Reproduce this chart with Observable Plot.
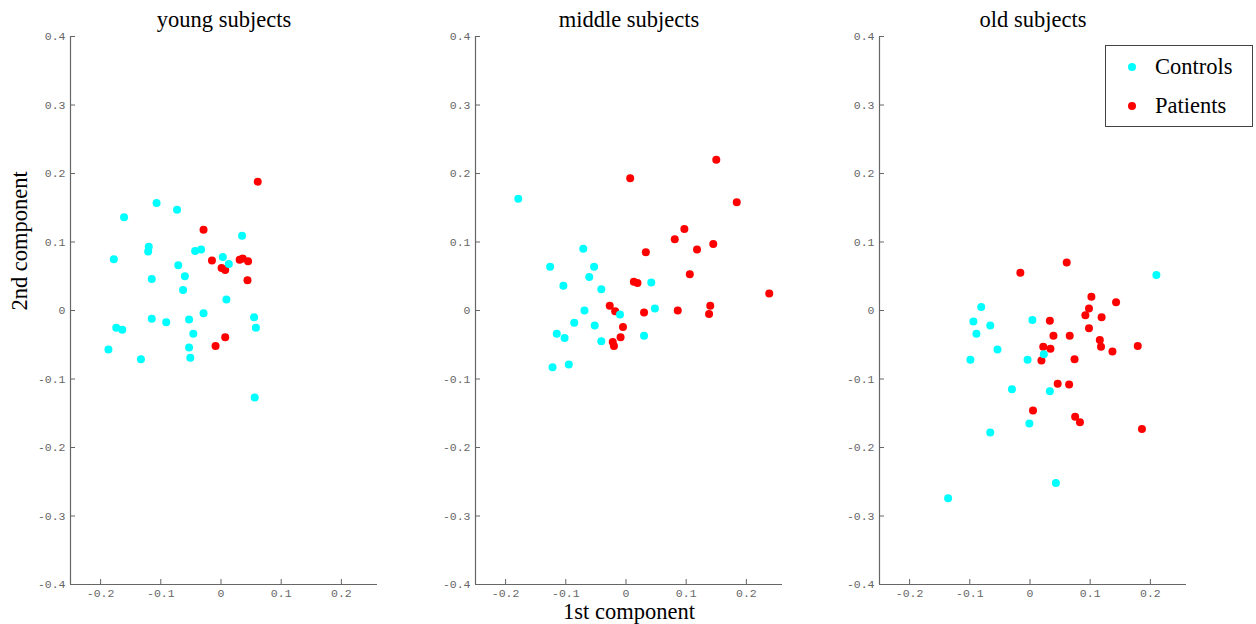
<!DOCTYPE html>
<html><head><meta charset="utf-8">
<script src="https://cdn.jsdelivr.net/npm/d3@7"></script>
<script src="https://cdn.jsdelivr.net/npm/@observablehq/plot@0.6"></script>
<style>
body{margin:0;background:#fff;}
#chart{position:relative;width:1256px;height:624px;overflow:hidden;background:#fff;}
#chart svg{position:absolute;top:0;}
.legend{position:absolute;left:1105px;top:45px;width:146px;height:80px;border:1px solid #444;background:#fff;font-family:"Liberation Serif","Times New Roman",serif;font-size:22.5px;color:#000;}
.legend .dot{position:absolute;width:8px;height:8px;border-radius:50%;}
.legend .lab{position:absolute;line-height:24px;}
</style></head><body><div id="chart"></div><script>
const panelTitles = ["young subjects", "middle subjects", "old subjects"];
const groups = ["Controls", "Patients"];
const groupColors = ["#00ffff", "#ff0000"];
const xTicks = [-0.2, -0.1, 0, 0.1, 0.2];
const yTicks = [-0.4, -0.3, -0.2, -0.1, 0, 0.1, 0.2, 0.3, 0.4];
const xDomain = [-0.25, 0.26];
const yDomain = [-0.4, 0.4];
const xLabel = "1st component";
const yLabel = "2nd component";

const youngControlsX = [-0.107, -0.073, -0.161, -0.120, -0.121, -0.178, -0.043, -0.033, 0.035, 0.003, 0.013, -0.071, -0.060, -0.115, -0.063, 0.009, -0.115, -0.091, -0.053, -0.029, 0.055, 0.058, -0.174, -0.164, -0.046, -0.187, -0.133, -0.053, -0.051, 0.056];
const youngControlsY = [0.157, 0.147, 0.136, 0.093, 0.086, 0.075, 0.087, 0.089, 0.109, 0.078, 0.068, 0.066, 0.050, 0.046, 0.030, 0.016, -0.012, -0.017, -0.013, -0.004, -0.010, -0.025, -0.025, -0.028, -0.034, -0.057, -0.071, -0.054, -0.069, -0.127];
const youngPatientsX = [0.061, -0.029, -0.015, 0.001, 0.007, 0.031, 0.036, 0.045, 0.044, -0.009, 0.007];
const youngPatientsY = [0.188, 0.118, 0.073, 0.062, 0.059, 0.074, 0.076, 0.072, 0.044, -0.052, -0.039];

const middleControlsX = [-0.179, -0.071, -0.126, -0.053, -0.061, -0.104, -0.041, 0.042, 0.048, -0.069, -0.010, -0.086, -0.052, -0.115, -0.102, -0.041, 0.030, -0.122, -0.095];
const middleControlsY = [0.163, 0.090, 0.064, 0.064, 0.049, 0.036, 0.031, 0.041, 0.003, 0.000, -0.006, -0.018, -0.022, -0.034, -0.040, -0.045, -0.037, -0.083, -0.079];
const middlePatientsX = [0.150, 0.007, 0.184, 0.097, 0.081, 0.145, 0.118, 0.033, 0.106, 0.013, 0.019, 0.238, -0.027, 0.140, -0.018, 0.086, 0.030, 0.138, -0.005, -0.009, -0.022, -0.020];
const middlePatientsY = [0.220, 0.193, 0.158, 0.119, 0.104, 0.097, 0.089, 0.085, 0.053, 0.042, 0.040, 0.025, 0.007, 0.007, -0.001, 0.000, -0.003, -0.005, -0.024, -0.039, -0.046, -0.052];

const oldControlsX = [0.210, -0.081, -0.094, -0.066, -0.089, 0.004, -0.054, -0.099, -0.004, 0.023, -0.030, 0.033, -0.001, -0.066, 0.043, -0.136];
const oldControlsY = [0.052, 0.005, -0.016, -0.022, -0.034, -0.014, -0.057, -0.072, -0.072, -0.064, -0.115, -0.118, -0.165, -0.178, -0.252, -0.274];
const oldPatientsX = [0.061, -0.016, 0.102, 0.143, 0.098, 0.092, 0.119, 0.033, 0.098, 0.039, 0.066, 0.116, 0.118, 0.179, 0.137, 0.022, 0.034, 0.019, 0.074, 0.046, 0.065, 0.005, 0.075, 0.083, 0.186];
const oldPatientsY = [0.070, 0.055, 0.020, 0.012, 0.003, -0.007, -0.010, -0.015, -0.026, -0.037, -0.037, -0.043, -0.053, -0.052, -0.060, -0.053, -0.056, -0.073, -0.071, -0.107, -0.108, -0.146, -0.155, -0.163, -0.173];

const panels = [
  {title: panelTitles[0], cx: youngControlsX, cy: youngControlsY, px: youngPatientsX, py: youngPatientsY},
  {title: panelTitles[1], cx: middleControlsX, cy: middleControlsY, px: middlePatientsX, py: middlePatientsY},
  {title: panelTitles[2], cx: oldControlsX, cy: oldControlsY, px: oldPatientsX, py: oldPatientsY}
];
const panelLefts = [0, 405, 809];

const monoFont = "'Liberation Mono','Courier New',monospace";
const serifFont = "'Liberation Serif','Times New Roman',serif";
const axisColor = "#666";

const chart = document.getElementById("chart");

panels.forEach((p, i) => {
  const rows = [
    ...p.px.map((x, j) => ({x, y: p.py[j], group: groups[1]})),
    ...p.cx.map((x, j) => ({x, y: p.cy[j], group: groups[0]}))
  ];
  const marks = [
    Plot.ruleX([xDomain[0]], {stroke: axisColor, strokeWidth: 1.2}),
    Plot.ruleY([yDomain[0]], {stroke: axisColor, strokeWidth: 1.2}),
    Plot.axisX({ticks: xTicks, tickSize: -5, tickPadding: 9, tickFormat: d => String(d), label: null, color: axisColor, fontFamily: monoFont, fontSize: 11.5}),
    Plot.axisY({ticks: yTicks, tickSize: -5, tickPadding: 10, tickFormat: d => String(d), label: null, color: axisColor, fontFamily: monoFont, fontSize: 11.5}),
    Plot.dot(rows, {x: "x", y: "y", fill: "group", r: 4}),
    Plot.text([p.title], {frameAnchor: "top", dy: -10, lineAnchor: "bottom", fontFamily: serifFont, fontSize: 22.5, fill: "#000"})
  ];
  if (i === 0) marks.push(Plot.text([yLabel], {frameAnchor: "left", dx: -51, rotate: -90, fontFamily: serifFont, fontSize: 22.5, fill: "#000"}));
  if (i === 1) marks.push(Plot.text([xLabel], {frameAnchor: "bottom", dy: 34, lineAnchor: "bottom", fontFamily: serifFont, fontSize: 22.5, fill: "#000"}));
  const svg = Plot.plot({
    width: 420, height: 624,
    marginLeft: 70, marginRight: 43, marginTop: 36, marginBottom: 40,
    x: {domain: xDomain},
    y: {domain: yDomain},
    color: {domain: groups, range: groupColors},
    style: {background: "transparent", overflow: "visible"},
    marks
  });
  svg.style.left = panelLefts[i] + "px";
  chart.appendChild(svg);
});

const legend = document.createElement("div");
legend.className = "legend";
groups.forEach((g, k) => {
  const dot = document.createElement("div");
  dot.className = "dot";
  dot.style.background = groupColors[k];
  dot.style.left = "22px";
  dot.style.top = (17 + 39 * k) + "px";
  const lab = document.createElement("div");
  lab.className = "lab";
  lab.textContent = g;
  lab.style.left = "49px";
  lab.style.top = (9 + 39 * k) + "px";
  legend.appendChild(dot);
  legend.appendChild(lab);
});
chart.appendChild(legend);
</script></body></html>
